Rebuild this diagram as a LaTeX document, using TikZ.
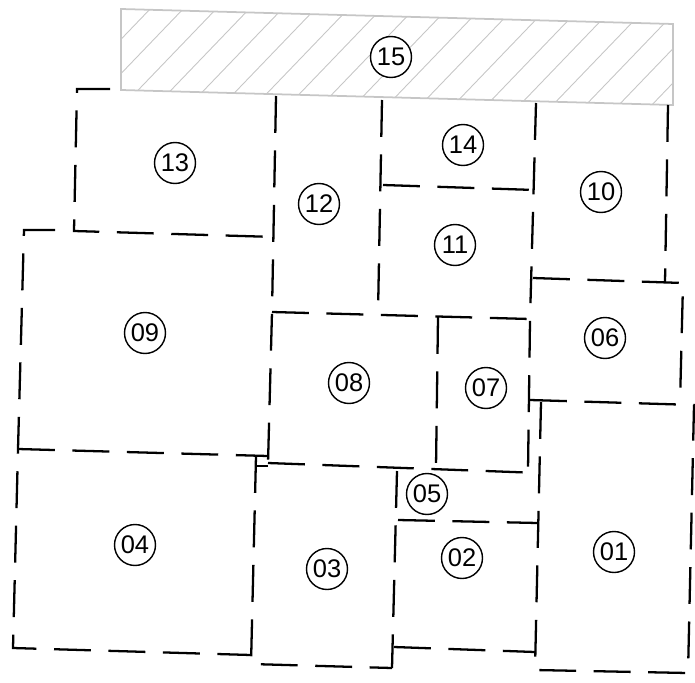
\documentclass[tikz,border=0pt]{standalone}
\usepackage{fontspec}
\setmainfont{Liberation Sans}
\usetikzlibrary{positioning}
\tikzset{
  wall/.style={line width=1.3pt, dash pattern=on 21pt off 10pt},
  hatchline/.style={gray!45, line width=0.5pt},
  strip/.style={gray!45, line width=1pt},
  roomnum/.style={draw, circle, line width=0.8pt,
    minimum size=0.82cm, inner sep=0pt,
    font=\fontsize{14.5}{14.5}\selectfont},
}

\begin{document}
\begin{tikzpicture}[x=0.02cm, y=-0.02cm]
  \useasboundingbox (0,0) rectangle (695,682);

  % Hatched strip
  \begin{scope}
    \clip (121,9) -- (673,24) -- (673,105) -- (121,90) -- cycle;
    \foreach \x in {20,53,...,690}
      \draw[hatchline] (\x,110) -- ++(100,-104);
  \end{scope}
  \draw[strip] (121,9) -- (673,24) -- (673,105) -- (121,90) -- cycle;

  % Outer walls, left side
  \draw[wall] (110,89) -- (77,89) -- (74,231) -- (275,237);
  \draw[wall] (55,230) -- (24,230) -- (18,449) -- (13,648) -- (251,655);
  \draw[wall] (18,449) -- (268,456);
  \draw[wall] (256,456) -- (251,664) -- (392,668);
  \draw[wall] (256,466) -- (268,466);

  % Middle block
  \draw[wall] (276,96) -- (272,312) -- (268,463);
  \draw[wall] (272,312) -- (530,319);
  \draw[wall] (382,100) -- (378,313);
  \draw[wall] (383,185) -- (535,190);
  \draw[wall] (536,103) -- (530,320) -- (528,470);
  \draw[wall] (438,317) -- (436,467);
  \draw[wall] (268,463) -- (540,473);

  % Right block
  \draw[wall] (668,105) -- (665,282);
  \draw[wall] (533,278) -- (683,283) -- (680,403);
  \draw[wall] (530,400) -- (695,405);
  \draw[wall] (541,402) -- (535,670) -- (688,673) -- (694,405);

  % Lower middle
  \draw[wall] (397,471) -- (392,668);
  \draw[wall] (398,520) -- (538,523);
  \draw[wall] (394,647) -- (535,652);

  % Room numbers
  \node[roomnum, fill=white] (r15) at (391,57) {15};
  \node[roomnum] (r13) at (175,163) {13};
  \node[roomnum] (r12) at (319,204) {12};
  \node[roomnum] (r14) at (463,145) {14};
  \node[roomnum] (r11) at (455,245) {11};
  \node[roomnum] (r10) at (601,192) {10};
  \node[roomnum] (r09) at (145,333) {09};
  \node[roomnum] (r08) at (349,383) {08};
  \node[roomnum] (r07) at (486,388) {07};
  \node[roomnum] (r06) at (605,338) {06};
  \node[roomnum] (r05) at (427,494) {05};
  \node[roomnum] (r04) at (135,545) {04};
  \node[roomnum] (r03) at (327,569) {03};
  \node[roomnum] (r02) at (462,558) {02};
  \node[roomnum] (r01) at (614,552) {01};
\end{tikzpicture}
\end{document}
